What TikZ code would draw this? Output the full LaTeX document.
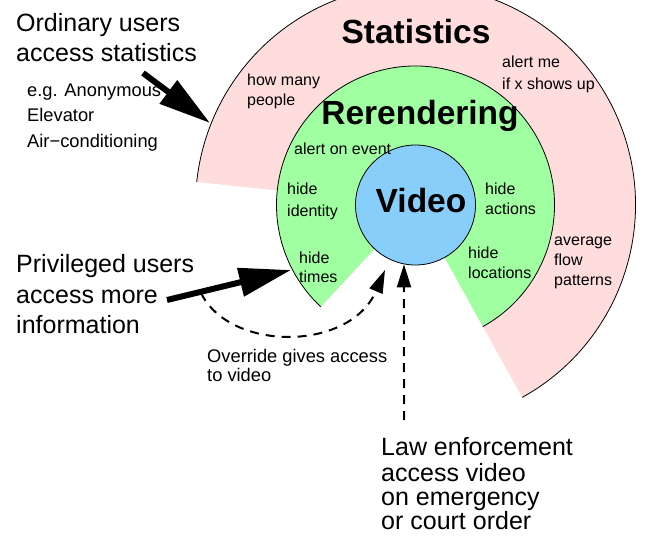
\documentclass[tikz,border=0pt]{standalone}
\usepackage{fontspec}
\setmainfont{Liberation Sans}
\usetikzlibrary{arrows.meta}
\definecolor{statpink}{RGB}{255,221,221}
\definecolor{rendgreen}{RGB}{160,255,160}
\definecolor{vidblue}{RGB}{135,206,250}
\tikzset{
  txtbig/.style={font=\fontsize{25}{30}\selectfont, anchor=base west, inner sep=0pt},
  txtmid/.style={font=\fontsize{18.3}{22}\selectfont, anchor=base west, inner sep=0pt},
  txtsmall/.style={font=\fontsize{16}{19}\selectfont, anchor=base west, inner sep=0pt},
  ringtitle/.style={font=\fontsize{33.5}{40}\selectfont\bfseries, anchor=base, inner sep=0pt},
  rim/.style={draw=black, line width=0.8pt},
  fatarrow/.style={line width=6pt, -{Triangle[length=52pt,width=28pt]}},
  dasharrow/.style={line width=2pt, dash pattern=on 9pt off 7pt, -{Triangle[length=23pt,width=14pt]}}
}
\begin{document}
\begin{tikzpicture}[x=1pt,y=-1pt]
\useasboundingbox (0,0) rectangle (647,535);
\clip (0,0) rectangle (647,535);

\coordinate (ctr) at (415.5,205);

% outer ring: statistics
\fill[statpink] (ctr) -- ++(61:220) arc (61:-174:220) -- cycle;
\draw[rim] (ctr) ++(61:220) arc (61:-174:220);

% middle ring: rerendering
\fill[rendgreen] (ctr) -- ++(61:139) arc (61:-227:139) -- cycle;
\draw[rim] (ctr) ++(61:139) arc (61:-227:139);

% core: video
\node[circle, draw, fill=vidblue, line width=0.8pt, minimum size=120pt, inner sep=0pt] (video) at (ctr) {};

% ring titles
\node[ringtitle] (stat) at (416,44) {Statistics};
\node[ringtitle] (rend) at (420,124) {Rerendering};
\node[ringtitle] (vidlabel) at (421,212) {Video};

% statistics ring labels
\node[txtsmall] (howmany1) at (247,85) {how many};
\node[txtsmall] (howmany2) at (247,105) {people};
\node[txtsmall] (alertme1) at (502,67) {alert me};
\node[txtsmall] (alertme2) at (502,89) {if x shows up};
\node[txtsmall] (avg1) at (554,245) {average};
\node[txtsmall] (avg2) at (554,265) {flow};
\node[txtsmall] (avg3) at (554,285) {patterns};

% rerendering ring labels
\node[txtsmall] (alertev) at (294,154) {alert on event};
\node[txtsmall] (hideid1) at (287,194) {hide};
\node[txtsmall] (hideid2) at (287,216) {identity};
\node[txtsmall] (hidetm1) at (299,263) {hide};
\node[txtsmall] (hidetm2) at (299,282) {times};
\node[txtsmall] (hideac1) at (485,194) {hide};
\node[txtsmall] (hideac2) at (485,214) {actions};
\node[txtsmall] (hidelo1) at (468,258) {hide};
\node[txtsmall] (hidelo2) at (468,278) {locations};

% ordinary users
\node[txtbig] (ord1) at (16,32) {Ordinary users};
\node[txtbig] (ord2) at (16,62) {access statistics};
\node[txtmid] (eg1) at (27,96) {e.g. Anonymous};
\node[txtmid] (eg2) at (27,121) {Elevator};
\node[txtmid] (eg3) at (27,147) {Air−conditioning};

% privileged users
\node[txtbig] (priv1) at (16,272) {Privileged users};
\node[txtbig] (priv2) at (16,303) {access more};
\node[txtbig] (priv3) at (16,333) {information};

% override note
\node[txtmid] (ovr1) at (207,362) {Override gives access};
\node[txtmid] (ovr2) at (207,381) {to video};

% law enforcement
\node[txtbig] (law1) at (381,455) {Law enforcement};
\node[txtbig] (law2) at (381,481) {access video};
\node[txtbig] (law3) at (381,505) {on emergency};
\node[txtbig] (law4) at (381,529) {or court order};

% connector end points
\coordinate (ordtail) at (143,73);
\coordinate (ordtip) at (210,123);
\coordinate (privtail) at (167,300);
\coordinate (privtip) at (291,270);
\coordinate (ovrstart) at (201,293);
\coordinate (ovrend) at (385,270);
\coordinate (lawtop) at (404,420);

% access arrows
\draw[fatarrow] (ordtail) -- (ordtip);
\draw[fatarrow] (privtail) -- (privtip);
\draw[dasharrow] (ovrstart) .. controls (230,352) and (350,352) .. (ovrend);
\draw[dasharrow] (lawtop) -- (video.-101);
\end{tikzpicture}
\end{document}
